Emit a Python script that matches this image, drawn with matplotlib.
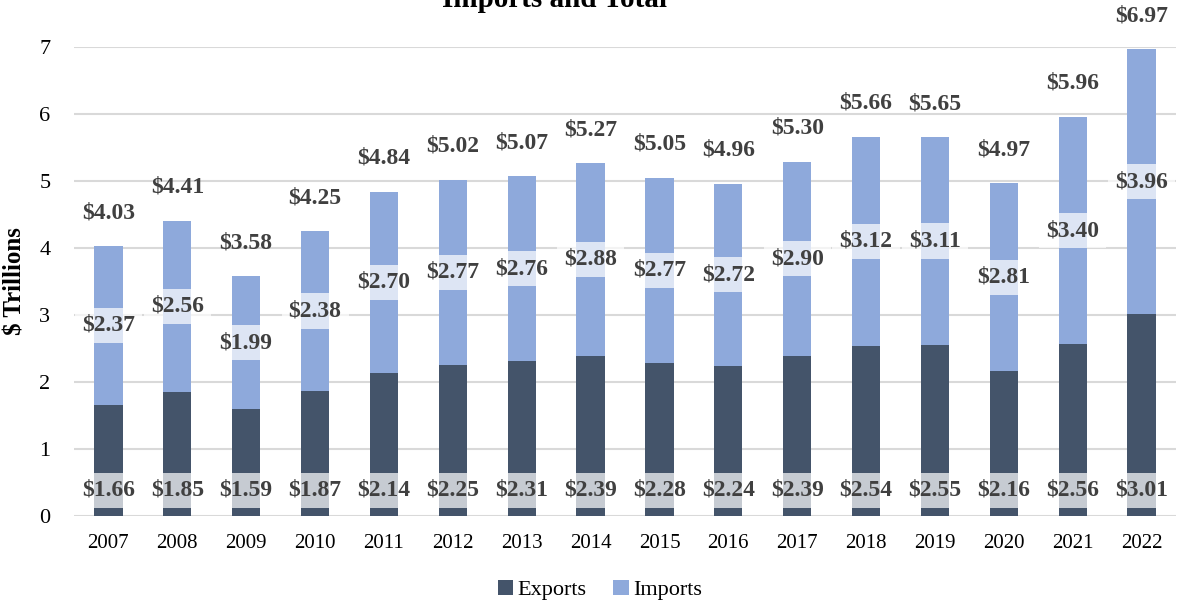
import matplotlib
matplotlib.use('Agg')
import matplotlib.pyplot as plt
import numpy as np

plt.rcParams['font.family'] = ['Liberation Serif', 'DejaVu Serif']

years = ['2007', '2008', '2009', '2010', '2011', '2012', '2013', '2014',
         '2015', '2016', '2017', '2018', '2019', '2020', '2021', '2022']
exports = [1.66, 1.85, 1.59, 1.87, 2.14, 2.25, 2.31, 2.39,
           2.28, 2.24, 2.39, 2.54, 2.55, 2.16, 2.56, 3.01]
imports = [2.37, 2.56, 1.99, 2.38, 2.70, 2.77, 2.76, 2.88,
           2.77, 2.72, 2.90, 3.12, 3.11, 2.81, 3.40, 3.96]
totals = [4.03, 4.41, 3.58, 4.25, 4.84, 5.02, 5.07, 5.27,
          5.05, 4.96, 5.30, 5.66, 5.65, 4.97, 5.96, 6.97]

exp_color = '#44546A'
imp_color = '#8EA9DB'
lbl_color = '#404040'

fig = plt.figure(figsize=(11.88, 6.06), dpi=100)
ax = fig.add_axes([74/1188, 1 - 516/606, (1176-74)/1188, (516-47)/606])

x = np.arange(len(years))
w = 0.41
ax.bar(x, exports, w, color=exp_color, label='Exports', zorder=3)
ax.bar(x, imports, w, bottom=exports, color=imp_color, label='Imports', zorder=3)

box = dict(boxstyle='square,pad=0.3', facecolor='white', edgecolor='none', alpha=0.7)
for i in range(len(years)):
    ax.annotate(f'${exports[i]:.2f}', (x[i], 0), xytext=(0, 18.5), textcoords='offset points',
                ha='center', va='center', fontsize=17, fontweight='bold', color=lbl_color,
                bbox=box, zorder=5)
    ax.text(x[i], exports[i] + imports[i] / 2, f'${imports[i]:.2f}',
            ha='center', va='center', fontsize=17, fontweight='bold', color=lbl_color,
            bbox=box, zorder=5)
    ax.annotate(f'${totals[i]:.2f}', (x[i], totals[i]), xytext=(0, 24), textcoords='offset points',
                ha='center', va='center', fontsize=17, fontweight='bold', color=lbl_color,
                zorder=5, annotation_clip=False)

ax.set_xlim(-0.5, len(years) - 0.5)
ax.set_ylim(0, 7)
ax.set_yticks(range(0, 8))
ax.set_xticks(x)
ax.set_xticklabels(years, fontsize=15)
ax.tick_params(axis='y', labelsize=16, length=0, pad=17)
ax.tick_params(axis='x', length=0, pad=13)
ax.yaxis.grid(True, color='#D9D9D9', linewidth=1.5, zorder=0)
ax.set_axisbelow(True)
for s in ax.spines.values():
    s.set_visible(False)
ax.set_ylabel('$ Trillions', fontsize=18, fontweight='bold')
ax.yaxis.set_label_coords(-47/1102, 0.5)

fig.text(555/1188, 1 - 7/606, 'Imports and Total', ha='center', va='baseline',
         fontsize=21, fontweight='bold')

fig.legend(loc='center', bbox_to_anchor=(600/1188, 1 - 590/606), ncol=2, frameon=False,
           fontsize=16, handlelength=0.7, handleheight=0.7, handletextpad=0.2, columnspacing=1.2)

fig.savefig('out.png', dpi=100)
